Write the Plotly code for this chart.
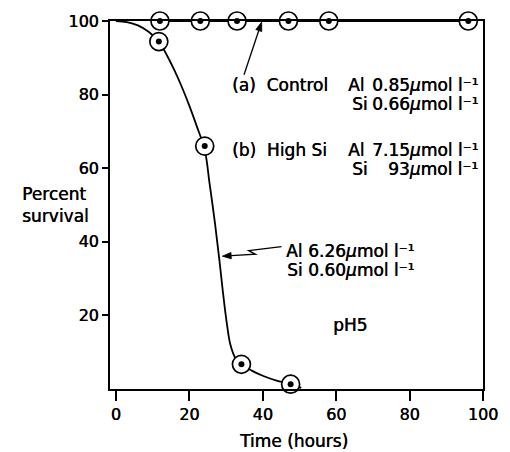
import math
import plotly.graph_objects as go

# ---- data ----
control_x = [12, 23, 33, 47, 58, 96]
control_y = [100, 100, 100, 100, 100, 100]

treated_x = [11.7, 24.2, 34.2, 47.6]
treated_y = [94.4, 66.0, 6.7, 1.3]

# fitted survival curve drawn in the figure
curve_x = [0, 3, 6, 9, 11.7, 14, 16, 18, 20, 22, 24.2, 25.5, 27, 28.2, 29.2, 30.2, 31.2, 32.5, 34.2, 37, 40, 44, 47.6, 50.5]
curve_y = [100, 99.7, 98.8, 97.0, 94.4, 90.5, 86.5, 82.0, 77.0, 71.5, 65.0, 56.0, 45.0, 35.0, 26.0, 18.0, 12.0, 8.5, 6.7, 5.0, 3.6, 2.2, 1.3, 0.3]

x_ticks = [0, 20, 40, 60, 80, 100]
y_ticks = [20, 40, 60, 80, 100]

FONT = "DejaVu Sans"
SHADOW = "0.45px 0px 0px black"
L, R, T, B = 110, 19, 18, 63
W, H = 510, 452
PW, PH = W - L - R, H - T - B
XR = [-1.6, 100]
YR = [0, 100]
SX = PW / (XR[1] - XR[0])
SY = PH / (YR[1] - YR[0])


def xp(px):
    return (px - L) / PW


def yp(py):
    return (H - B - py) / PH


fig = go.Figure()

fig.add_trace(go.Scatter(x=curve_x, y=curve_y, mode="lines",
                         line=dict(color="black", width=1.8, shape="spline", smoothing=1.0),
                         hoverinfo="skip", showlegend=False, cliponaxis=False))
fig.add_trace(go.Scatter(x=control_x, y=control_y, mode="lines",
                         line=dict(color="black", width=1.8),
                         hoverinfo="skip", showlegend=False, cliponaxis=False))
for xs, ys in ((control_x, control_y), (treated_x, treated_y)):
    fig.add_trace(go.Scatter(x=xs, y=ys, mode="markers",
                             marker=dict(symbol="circle", size=18, color="white",
                                         line=dict(color="black", width=1.7)),
                             showlegend=False, cliponaxis=False))
    fig.add_trace(go.Scatter(x=xs, y=ys, mode="markers",
                             marker=dict(symbol="circle", size=6, color="black",
                                         line=dict(width=0)),
                             showlegend=False, cliponaxis=False))


def fnt(size=17):
    return dict(family=FONT, size=size, color="black", shadow=SHADOW)


def txt(s, px, py, anchor="left", size=17):
    fig.add_annotation(text=s, x=xp(px), y=yp(py), xref="paper", yref="paper",
                       xanchor=anchor, yanchor="middle", showarrow=False, font=fnt(size))


unit = "<i>μ</i>mol l⁻¹"
txt("(a)  Control", 233, 83)
txt("Al", 351, 83)
txt("0.85" + unit, 488, 83, "right")
txt("Si", 355, 102)
txt("0.66" + unit, 488, 102, "right")
txt("(b)  High Si", 233, 148)
txt("Al", 351, 148)
txt("7.15" + unit, 488, 148, "right")
txt("Si", 355, 167)
txt("93" + unit, 488, 167, "right")
txt("Al", 288, 250)
txt("6.26" + unit, 423, 250, "right")
txt("Si", 289, 269)
txt("0.60" + unit, 423, 269, "right")
txt("pH5", 355, 324, "center")
txt("Time (hours)", 297, 441, "center")
fig.add_annotation(text="Percent<br>survival", x=xp(18), y=yp(204), xref="paper", yref="paper",
                   xanchor="left", yanchor="middle", align="left", showarrow=False, font=fnt(17))


def arrow(pts, width=1.4, head_len=9, head_half=3.2):
    """polyline through pts (data coords); filled arrowhead at the last point."""
    (x0, y0), (x1, y1) = pts[-2], pts[-1]
    dx, dy = (x1 - x0) * SX, (y1 - y0) * SY
    n = math.hypot(dx, dy)
    ux, uy = dx / n, dy / n
    bx, by = x1 - head_len * ux / SX, y1 - head_len * uy / SY
    c1 = (bx + head_half * (-uy) / SX, by + head_half * ux / SY)
    c2 = (bx - head_half * (-uy) / SX, by - head_half * ux / SY)
    line_pts = list(pts[:-1]) + [(bx, by)]
    path = "M " + " L ".join(f"{x:.3f} {y:.3f}" for x, y in line_pts)
    fig.add_shape(type="path", xref="x", yref="y", path=path,
                  line=dict(color="black", width=width))
    head = f"M {x1:.3f} {y1:.3f} L {c1[0]:.3f} {c1[1]:.3f} L {c2[0]:.3f} {c2[1]:.3f} Z"
    fig.add_shape(type="path", xref="x", yref="y", path=head, fillcolor="black",
                  line=dict(color="black", width=0.8))


# arrow to control line
arrow([(34.9, 85.4), (39.7, 99.7)], width=1.3)
# zig-zag arrow to survival curve
arrow([(45.1, 38.7), (36.2, 37.6), (38.0, 36.6), (29.0, 36.1)], width=1.4)

tick_font = fnt(16)
fig.update_xaxes(range=XR, tickvals=x_ticks, ticks="outside", ticklen=10, tickwidth=1.6,
                 tickcolor="black", showline=True, linecolor="black", linewidth=2, mirror=True,
                 showgrid=False, zeroline=False, tickfont=tick_font)
fig.update_yaxes(range=YR, tickvals=y_ticks, ticks="outside", ticklen=6, tickwidth=1.6,
                 tickcolor="black", showline=True, linecolor="black", linewidth=2, mirror=True,
                 showgrid=False, zeroline=False, tickfont=tick_font)

fig.update_layout(width=W, height=H, margin=dict(l=L, r=R, t=T, b=B),
                  plot_bgcolor="white", paper_bgcolor="white", showlegend=False)

fig.write_html("out.html")
